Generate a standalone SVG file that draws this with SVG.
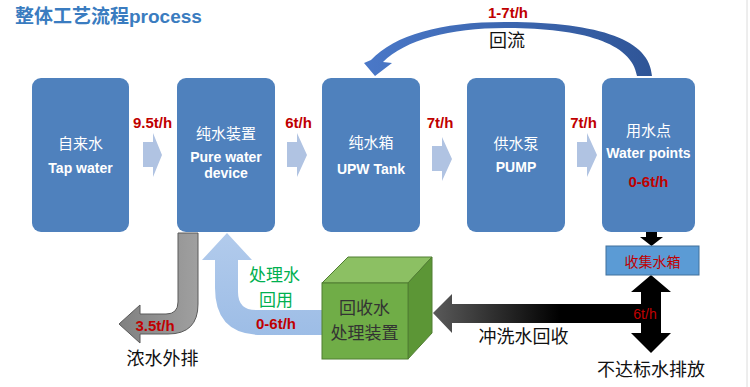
<svg xmlns="http://www.w3.org/2000/svg" width="750" height="387" viewBox="0 0 750 387">
<defs>
<linearGradient id="gBack" x1="0" y1="0" x2="1" y2="0"><stop offset="0" stop-color="#4a78c8"/><stop offset="1" stop-color="#2f5597"/></linearGradient>
<linearGradient id="gBlack" gradientUnits="userSpaceOnUse" x1="433" y1="0" x2="560" y2="0"><stop offset="0" stop-color="#5a5a5a"/><stop offset="1" stop-color="#000"/></linearGradient>
<linearGradient id="gGray" x1="0" y1="0" x2="1" y2="0"><stop offset="0" stop-color="#808080"/><stop offset="1" stop-color="#a0a0a0"/></linearGradient>
<linearGradient id="gBlue" x1="0" y1="0" x2="0" y2="1"><stop offset="0" stop-color="#b2cbec"/><stop offset="1" stop-color="#9dbde6"/></linearGradient>
</defs>
<style>
.box{fill:#4f81bd;}
.wt{fill:#fff;font-family:"Liberation Sans","Noto Sans CJK SC",sans-serif;text-anchor:middle;dominant-baseline:central;}
.cn{font-family:"Noto Sans CJK SC",sans-serif;font-size:15px;}
.en{font-weight:bold;font-size:14px;}
.red{fill:#c00000;font-family:"Liberation Sans","Noto Sans CJK SC",sans-serif;font-weight:bold;font-size:15px;text-anchor:middle;dominant-baseline:central;}
.blk{fill:#111;font-family:"Noto Sans CJK SC",sans-serif;font-size:18px;text-anchor:middle;dominant-baseline:central;}
.chev{fill:#b0c3e2;}
.grn{fill:#00b050;font-family:"Noto Sans CJK SC",sans-serif;font-size:17px;text-anchor:middle;dominant-baseline:central;}
.cube{fill:#333;font-family:"Noto Sans CJK SC",sans-serif;font-size:17px;text-anchor:middle;dominant-baseline:central;}
</style>
<rect width="750" height="387" fill="#fff"/>
<line x1="747" y1="0" x2="747" y2="387" stroke="#dcdcdc" stroke-width="1"/>
<text x="15" y="23" fill="#3a7cc0" font-family="Liberation Sans,Noto Sans CJK SC,sans-serif" font-weight="bold" font-size="19">整体工艺流程process</text>

<g id="connectors">
<path d="M652 76 C650 40 600 22 505 22 C440 22 395 35 371 60 L364 63 L375 76 L392 63 L383 62 C405 40 450 28 505 28 C580 28 632 42 637 76 Z" fill="url(#gBack)"/>
<text class="red" x="508" y="12">1-7t/h</text>
<text class="blk" x="507" y="39">回流</text>
<path class="chev" d="M143 142 L153 142 L153 133 L162 155 L153 177 L153 167 L143 167 Z"/>
<path class="chev" d="M287 142 L297 142 L297 133 L307 155 L297 177 L297 167 L287 167 Z"/>
<path class="chev" d="M432 146 L442 146 L442 137 L452 159 L442 181 L442 171 L432 171 Z"/>
<path class="chev" d="M577 142 L587 142 L587 133 L597 155 L587 177 L587 167 L577 167 Z"/>
<text class="red" x="152.5" y="122">9.5t/h</text>
<text class="red" x="298.5" y="122">6t/h</text>
<text class="red" x="440" y="122">7t/h</text>
<text class="red" x="583.5" y="122">7t/h</text>
<path d="M178 233 L198 233 L198 304 Q198 334 168 334 L140 334 L140 343 L119 324 L140 305 L140 314 L166 314 Q178 314 178 302 Z" fill="url(#gGray)" stroke="#5a5a5a" stroke-width="1"/>
<text class="red" x="155" y="325" font-size="14">3.5t/h</text>
<text class="blk" x="162.5" y="356.5" font-size="19">浓水外排</text>
<path d="M227 233 L252 260 L238 260 L238 292 Q238 310 256 310 L325 310 L325 335 L262 335 Q215 335 215 288 L215 260 L202 260 Z" fill="url(#gBlue)"/>
<text class="grn" x="274.5" y="273">处理水</text>
<text class="grn" x="276" y="298">回用</text>
<text class="red" x="276" y="323" font-size="14">0-6t/h</text>
<path d="M433 313 L452 294 L452 304 L645 304 L645 323 L452 323 L452 333 Z" fill="url(#gBlack)"/>
<path d="M651 275 L671 292 L661 292 L661 333 L671 333 L651 353 L631 333 L641 333 L641 292 L631 292 Z" fill="#000"/>
<path d="M646 232 L657 232 L657 237 L663 237 L651.5 246 L640 237 L646 237 Z" fill="#000"/>
<text x="645" y="314" fill="#c00000" font-family="Liberation Sans,sans-serif" font-size="14" text-anchor="middle" dominant-baseline="central">6t/h</text>
<text class="blk" x="523.5" y="335">冲洗水回收</text>
<text class="blk" x="651" y="368">不达标水排放</text>
</g>

<g id="tap">
<rect class="box" x="32" y="78" width="97" height="154" rx="9"/>
<text class="wt cn" x="80.5" y="142">自来水</text>
<text class="wt en" x="80.5" y="168">Tap water</text>
</g>
<g id="pure">
<rect class="box" x="177" y="78" width="98" height="154" rx="9"/>
<text class="wt cn" x="226" y="132">纯水装置</text>
<text class="wt en" x="226" y="157" font-size="13.5">Pure water</text>
<text class="wt en" x="226" y="172.5" font-size="13.5">device</text>
</g>
<g id="tank">
<rect class="box" x="322" y="78" width="98" height="154" rx="9"/>
<text class="wt cn" x="371" y="141">纯水箱</text>
<text class="wt en" x="371" y="169">UPW Tank</text>
</g>
<g id="pump">
<rect class="box" x="467" y="78" width="98" height="154" rx="9"/>
<text class="wt cn" x="516" y="142">供水泵</text>
<text class="wt en" x="516" y="167">PUMP</text>
</g>
<g id="points">
<rect class="box" x="602" y="78" width="93" height="154" rx="9"/>
<text class="wt cn" x="648.5" y="129">用水点</text>
<text class="wt en" x="648.5" y="153" font-size="13">Water points</text>
<text class="red" x="648.5" y="181">0-6t/h</text>
</g>
<g id="collect">
<rect x="606" y="246" width="93" height="29" fill="#5b9bd5" stroke="#41719c" stroke-width="1"/>
<text x="652.5" y="260.5" fill="#c00000" font-family="Noto Sans CJK SC,sans-serif" font-size="14" text-anchor="middle" dominant-baseline="central">收集水箱</text>
</g>
<g id="recovery">
<path d="M322 283 L348 257 L432 257 L408 283 Z" fill="#8cc063" stroke="#507e32" stroke-width="1"/>
<path d="M408 283 L432 257 L432 333 L408 359 Z" fill="#5c9636" stroke="#507e32" stroke-width="1"/>
<rect x="322" y="283" width="86" height="76" fill="#70ad47" stroke="#507e32" stroke-width="1"/>
<text class="cube" x="364.5" y="306">回收水</text>
<text class="cube" x="364.5" y="331">处理装置</text>
</g>
</svg>
